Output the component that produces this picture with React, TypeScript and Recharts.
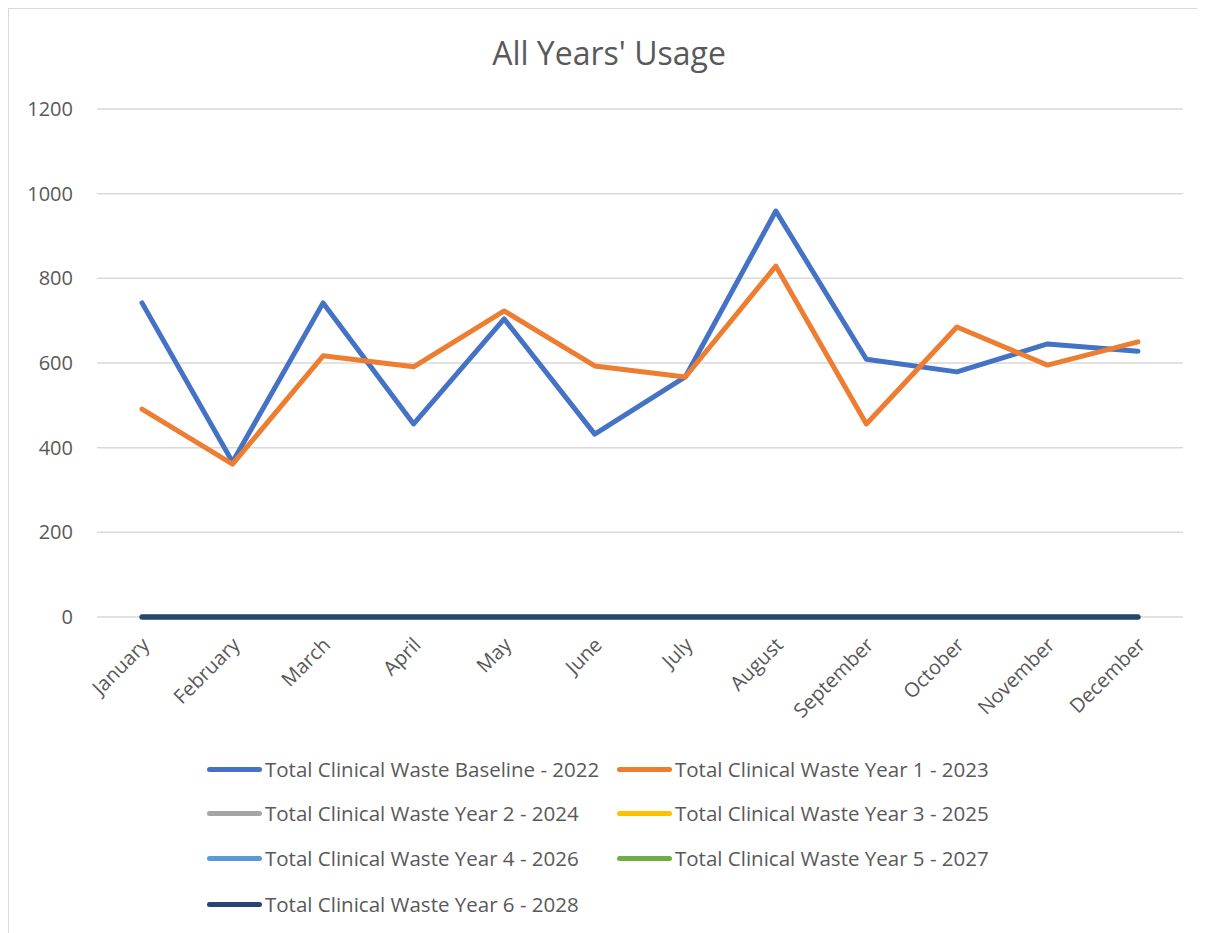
import { LineChart, Line, XAxis, YAxis, CartesianGrid } from "recharts";

const months = [
  "January", "February", "March", "April", "May", "June",
  "July", "August", "September", "October", "November", "December",
];

const baseline2022 = [742, 366, 742, 456, 704, 432, 567, 959, 609, 579, 645, 628];
const year1_2023 = [491, 361, 617, 591, 723, 593, 567, 829, 456, 685, 595, 650];
const year2_2024 = [0, 0, 0, 0, 0, 0, 0, 0, 0, 0, 0, 0];
const year3_2025 = [0, 0, 0, 0, 0, 0, 0, 0, 0, 0, 0, 0];
const year4_2026 = [0, 0, 0, 0, 0, 0, 0, 0, 0, 0, 0, 0];
const year5_2027 = [0, 0, 0, 0, 0, 0, 0, 0, 0, 0, 0, 0];
const year6_2028 = [0, 0, 0, 0, 0, 0, 0, 0, 0, 0, 0, 0];

const yTicks = [0, 200, 400, 600, 800, 1000, 1200];

const series = [
  { key: "b22", name: "Total Clinical Waste Baseline - 2022", values: baseline2022, color: "#4472C4" },
  { key: "y23", name: "Total Clinical Waste Year 1 - 2023", values: year1_2023, color: "#ED7D31" },
  { key: "y24", name: "Total Clinical Waste Year 2 - 2024", values: year2_2024, color: "#A5A5A5" },
  { key: "y25", name: "Total Clinical Waste Year 3 - 2025", values: year3_2025, color: "#FFC000" },
  { key: "y26", name: "Total Clinical Waste Year 4 - 2026", values: year4_2026, color: "#5B9BD5" },
  { key: "y27", name: "Total Clinical Waste Year 5 - 2027", values: year5_2027, color: "#70AD47" },
  { key: "y28", name: "Total Clinical Waste Year 6 - 2028", values: year6_2028, color: "#264478" },
];

const data = months.map((m, i) => {
  const row: Record<string, string | number> = { month: m };
  series.forEach((s) => (row[s.key] = s.values[i]));
  return row;
});

const FONT = "'Open Sans', sans-serif";
const TEXT = "#595959";

function MonthTick({ x, y, payload }: any) {
  return (
    <text
      x={x}
      y={y}
      transform={`rotate(-45 ${x} ${y})`}
      textAnchor="end"
      dx={-9}
      dy={21}
      fill={TEXT}
      fontSize={20}
      fontFamily={FONT}
    >
      {payload.value}
    </text>
  );
}

export default function App() {
  return (
    <div
      style={{
        position: "relative",
        width: 1195,
        height: 930,
        border: "1px solid #d9d9d9",
        background: "#fff",
        fontFamily: FONT,
      }}
    >
      <div
        style={{
          position: "absolute",
          left: 0,
          width: 1200,
          top: 22,
          textAlign: "center",
          fontSize: 32,
          color: TEXT,
        }}
      >
        All Years' Usage
      </div>

      <LineChart
        width={1195}
        height={720}
        data={data}
        margin={{ top: 100, right: 21, bottom: 0, left: 0 }}
      >
        <CartesianGrid horizontal vertical={false} stroke="#d9d9d9" strokeWidth={1.5} />
        <XAxis
          dataKey="month"
          axisLine={false}
          tickLine={false}
          interval={0}
          height={112}
          padding={{ left: 45, right: 45 }}
          tick={<MonthTick />}
        />
        <YAxis
          domain={[0, 1200]}
          ticks={yTicks}
          width={88}
          axisLine={false}
          tickLine={false}
          tickSize={0}
          tickMargin={24}
          tick={{ fill: TEXT, fontSize: 20, fontFamily: FONT }}
        />
        {series.map((s) => (
          <Line
            key={s.key}
            type="linear"
            dataKey={s.key}
            name={s.name}
            stroke={s.color}
            strokeWidth={5}
            strokeLinecap="round"
            strokeLinejoin="round"
            dot={false}
            activeDot={false}
            isAnimationActive={false}
          />
        ))}
      </LineChart>

      {series.map((s, i) => {
        const col = i % 2;
        const row = Math.floor(i / 2);
        const tops = [760, 804, 849, 895];
        return (
          <div
            key={s.key}
            style={{
              position: "absolute",
              left: col === 0 ? 198 : 608,
              top: tops[row] - 14,
              height: 28,
              display: "flex",
              alignItems: "center",
              whiteSpace: "nowrap",
              fontSize: 20.5,
              color: TEXT,
            }}
          >
            <span
              style={{
                display: "inline-block",
                width: 55,
                height: 5,
                borderRadius: 3,
                background: s.color,
                marginRight: 3,
              }}
            />
            {s.name}
          </div>
        );
      })}
    </div>
  );
}
